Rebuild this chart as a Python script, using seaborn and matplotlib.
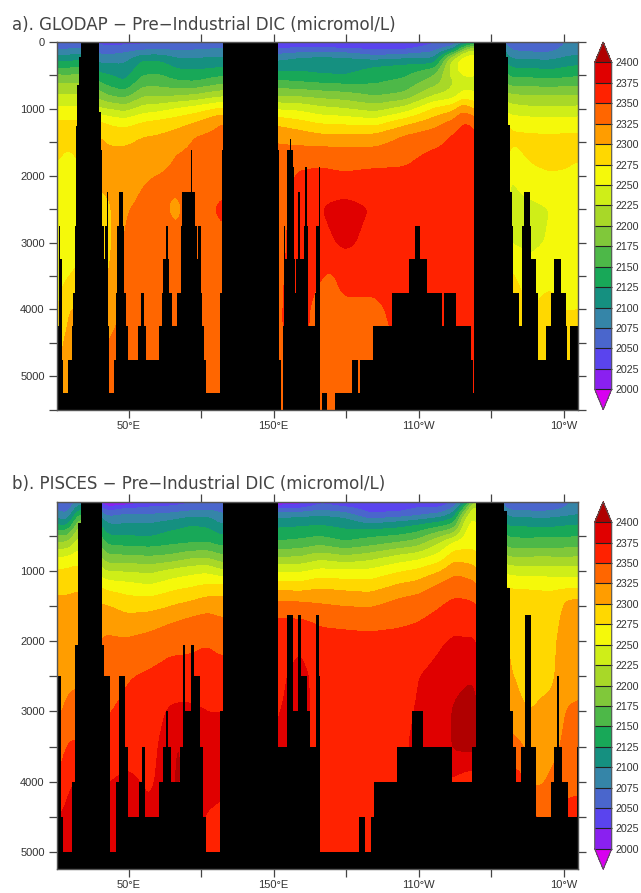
import numpy as np
import matplotlib
matplotlib.use("Agg")
import matplotlib.pyplot as plt
from matplotlib.colors import ListedColormap, BoundaryNorm
import seaborn as sns

TITLE_A = "a). GLODAP \u2212 Pre\u2212Industrial DIC (micromol/L)"
TITLE_B = "b). PISCES \u2212 Pre\u2212Industrial DIC (micromol/L)"
LEVELS = list(range(2000, 2425, 25))
BAND_COLORS = ["#d800f0", "#8a20f0", "#5a44ee", "#4a66cc", "#3585a8", "#159080",
               "#18a858", "#4db848", "#80c83a", "#a8d828", "#cfee18", "#f5f90a",
               "#ffd800", "#ff9d00", "#ff6600", "#ff2200", "#e00000", "#b00000"]
XTICKS = [50, 100, 150, 200, 250, 300, 350]
XLABELS = ["50\u00b0E", "", "150\u00b0E", "", "110\u00b0W", "", "10\u00b0W"]
DEPTHS = [0, 100, 200, 300, 450, 600, 800, 1000, 1200, 1400, 1700, 2000, 2500, 3000, 3500, 4000, 4500, 5500]

A_LONS = [0.4, 8, 16.5, 30.5, 37, 47.6, 60, 71.6, 83.3, 95.8, 114.3, 152.9, 168, 181.8, 189, 199, 219.7, 240.3, 261,
          273.4, 280.3, 287.8, 312.6, 326.4, 340.2, 350.5, 359.6]
A_DIC = [
    [2055, 2069, 2097, 2125, 2167, 2200, 2228, 2256, 2279, 2288, 2279, 2268, 2262, 2260, 2262, 2270, 2290, 2310],
    [2055, 2070, 2101, 2126, 2164, 2196, 2226, 2254, 2278, 2284, 2270, 2262, 2258, 2262, 2274, 2300, 2306, 2316],
    [2058, 2075, 2108, 2132, 2170, 2200, 2228, 2256, 2280, 2288, 2278, 2270, 2265, 2268, 2280, 2302, 2308, 2316],
    [2040, 2062, 2076, 2096, 2122, 2147, 2186, 2226, 2279, 2302, 2305, 2305, 2296, 2293, 2302, 2306, 2315, 2320],
    [2035, 2058, 2077, 2096, 2120, 2138, 2172, 2224, 2268, 2293, 2306, 2306, 2296, 2294, 2298, 2312, 2328, 2332],
    [2040, 2062, 2083, 2097, 2112, 2125, 2164, 2214, 2263, 2290, 2308, 2312, 2323, 2330, 2331, 2332, 2333, 2335],
    [2040, 2066, 2103, 2132, 2144, 2164, 2196, 2236, 2276, 2299, 2313, 2323, 2330, 2332, 2334, 2335, 2336, 2338],
    [2042, 2072, 2103, 2129, 2146, 2163, 2196, 2241, 2282, 2302, 2314, 2326, 2330, 2333, 2335, 2335, 2336, 2338],
    [2045, 2068, 2092, 2110, 2132, 2153, 2197, 2253, 2289, 2309, 2326, 2331, 2320, 2330, 2335, 2336, 2337, 2338],
    [2048, 2070, 2094, 2108, 2129, 2150, 2203, 2262, 2299, 2325, 2332, 2336, 2338, 2338, 2338, 2338, 2338, 2338],
    [2052, 2078, 2097, 2111, 2137, 2167, 2219, 2281, 2326, 2332, 2338, 2342, 2354, 2345, 2340, 2338, 2338, 2338],
    [2030, 2044, 2083, 2103, 2126, 2155, 2197, 2247, 2291, 2320, 2332, 2336, 2342, 2342, 2345, 2347, 2348, 2348],
    [2035, 2050, 2092, 2112, 2125, 2150, 2195, 2244, 2281, 2312, 2338, 2354, 2360, 2362, 2362, 2360, 2356, 2350],
    [2035, 2048, 2097, 2113, 2120, 2146, 2190, 2232, 2271, 2304, 2341, 2356, 2373, 2366, 2352, 2340, 2340, 2342],
    [2033, 2046, 2096, 2112, 2119, 2145, 2188, 2230, 2270, 2304, 2341, 2354, 2380, 2372, 2346, 2340, 2340, 2342],
    [2032, 2045, 2096, 2110, 2118, 2143, 2185, 2226, 2268, 2303, 2340, 2352, 2385, 2380, 2358, 2345, 2340, 2342],
    [2030, 2042, 2072, 2114, 2135, 2146, 2172, 2214, 2262, 2306, 2339, 2356, 2372, 2366, 2358, 2345, 2340, 2340],
    [2030, 2042, 2082, 2119, 2141, 2157, 2181, 2235, 2290, 2327, 2344, 2355, 2362, 2362, 2362, 2360, 2356, 2350],
    [2044, 2064, 2089, 2115, 2169, 2188, 2226, 2280, 2314, 2338, 2356, 2360, 2362, 2362, 2362, 2362, 2360, 2350],
    [2050, 2085, 2190, 2245, 2238, 2222, 2236, 2292, 2332, 2352, 2358, 2360, 2362, 2362, 2362, 2360, 2356, 2350],
    [2075, 2170, 2252, 2262, 2258, 2236, 2261, 2320, 2352, 2358, 2360, 2366, 2364, 2362, 2362, 2360, 2356, 2350],
    [2110, 2230, 2262, 2265, 2262, 2240, 2255, 2300, 2345, 2358, 2362, 2381, 2365, 2362, 2362, 2360, 2356, 2350],
    [2060, 2070, 2088, 2110, 2135, 2161, 2204, 2236, 2265, 2280, 2268, 2248, 2240, 2248, 2280, 2300, 2305, 2310],
    [2047, 2064, 2086, 2108, 2135, 2161, 2200, 2231, 2262, 2278, 2278, 2268, 2242, 2245, 2258, 2272, 2285, 2295],
    [2045, 2062, 2085, 2106, 2130, 2160, 2200, 2231, 2261, 2277, 2285, 2272, 2250, 2252, 2265, 2290, 2298, 2300],
    [2075, 2082, 2095, 2113, 2135, 2161, 2200, 2231, 2260, 2278, 2285, 2270, 2258, 2255, 2260, 2273, 2295, 2300],
    [2085, 2088, 2100, 2118, 2140, 2163, 2200, 2232, 2262, 2278, 2280, 2262, 2255, 2252, 2258, 2275, 2295, 2300],
]
A_EDGES = [0.4, 2.1, 3.0, 4.0, 5.1, 8.1, 10.8, 12.0, 13.1, 13.8, 14.7, 15.9, 17.0, 29.9, 30.8, 31.7, 33.1, 34.0, 35.0, 35.6,
           36.1, 36.8, 40.0, 41.2, 42.3, 43.7, 46.0, 47.1, 48.3, 49.9, 56.3, 58.4, 60.9, 62.0, 70.7, 73.0, 74.0, 75.8, 77.0, 78.1,
           80.2, 83.1, 86.1, 86.8, 93.0, 93.9, 95.8, 96.9, 98.0, 99.9, 100.8, 102.0, 103.1, 113.0, 114.1, 114.8, 152.9, 153.9, 155.0, 156.2,
           157.1, 157.7, 158.9, 159.3, 161.1, 161.9, 163.0, 163.9, 164.6, 165.5, 166.9, 167.8, 170.8, 171.5, 172.9, 173.8, 178.4, 179.0, 181.1, 181.8,
           183.0, 186.9, 188.0, 192.2, 204.1, 208.2, 209.4, 218.1, 231.2, 243.1, 247.2, 250.7, 255.3, 266.0, 267.2, 275.9, 286.2, 287.4, 288.3, 310.3,
           311.5, 312.6, 313.8, 314.9, 319.0, 321.1, 322.3, 326.4, 327.5, 331.0, 332.1, 337.9, 341.3, 343.1, 348.2, 351.2, 352.3, 354.0, 359.7]
A_FLOOR = [4250, 2750, 3250, 4750, 5250, 4750, 4250, 3750, 2750, 1250, 650, 220, 0, 1050, 1620, 2750, 3250, 2750, 2250, 2750,
           4250, 5250, 4750, 3750, 2750, 2250, 2750, 3750, 4250, 4750, 4250, 3750, 4250, 4750, 4250, 3750, 3250, 2750, 3250, 3750,
           4250, 3750, 2750, 2250, 1620, 2250, 2750, 3250, 2750, 3750, 4250, 4750, 5250, 3750, 1620, 0, 1620, 4750, 5500, 4250,
           2750, 3250, 2750, 1620, 1445, 1620, 1870, 3250, 3750, 3250, 2250, 3250, 2750, 1870, 2750, 4250, 3750, 2750, 1870, 5500,
           5250, 5500, 5500, 5250, 4750, 5250, 4750, 4250, 3750, 3250, 2750, 3250, 3750, 4250, 3750, 4250, 4750, 5250, 0, 220,
           1245, 2250, 2750, 3750, 4250, 2750, 2250, 2750, 3250, 3750, 4750, 4250, 3750, 3250, 3750, 4250, 4750, 4250]

B_LONS = [0.4, 8, 16.5, 35, 48.9, 64.7, 78.5, 83.3, 92.3, 104, 114.3, 152.9, 168, 181.8, 199, 216, 237, 248.6, 264.4,
          274.7, 281.6, 288.5, 310.5, 319.4, 329.7, 342, 350.5, 359.6]
B_DIC = [
    [2055, 2068, 2089, 2112, 2162, 2203, 2250, 2278, 2292, 2303, 2306, 2308, 2312, 2320, 2330, 2350, 2375, 2380],
    [2040, 2056, 2075, 2100, 2158, 2202, 2252, 2280, 2294, 2302, 2308, 2312, 2320, 2330, 2353, 2374, 2380, 2385],
    [2085, 2120, 2160, 2195, 2225, 2245, 2265, 2285, 2298, 2304, 2310, 2315, 2322, 2332, 2355, 2375, 2380, 2385],
    [1980, 2035, 2068, 2095, 2117, 2144, 2180, 2222, 2263, 2292, 2319, 2328, 2338, 2348, 2360, 2374, 2380, 2385],
    [1982, 2054, 2078, 2096, 2118, 2140, 2180, 2223, 2257, 2281, 2308, 2328, 2348, 2356, 2365, 2380, 2386, 2390],
    [2030, 2052, 2077, 2097, 2115, 2138, 2176, 2218, 2250, 2279, 2313, 2334, 2354, 2362, 2366, 2371, 2380, 2385],
    [2032, 2054, 2082, 2104, 2128, 2144, 2180, 2230, 2262, 2288, 2321, 2342, 2360, 2378, 2388, 2388, 2385, 2385],
    [2035, 2056, 2085, 2108, 2130, 2145, 2184, 2234, 2266, 2292, 2324, 2343, 2360, 2380, 2404, 2408, 2385, 2385],
    [2042, 2062, 2090, 2118, 2135, 2147, 2193, 2240, 2270, 2296, 2329, 2344, 2360, 2380, 2390, 2380, 2380, 2380],
    [2048, 2066, 2093, 2115, 2133, 2150, 2196, 2245, 2277, 2305, 2335, 2348, 2362, 2375, 2382, 2380, 2374, 2370],
    [2052, 2063, 2077, 2092, 2118, 2140, 2180, 2228, 2280, 2305, 2327, 2342, 2360, 2375, 2380, 2378, 2372, 2368],
    [1990, 2043, 2089, 2112, 2134, 2153, 2198, 2246, 2285, 2323, 2353, 2362, 2370, 2374, 2376, 2370, 2370, 2370],
    [2000, 2046, 2092, 2114, 2137, 2157, 2200, 2246, 2283, 2321, 2352, 2372, 2382, 2382, 2380, 2378, 2376, 2372],
    [2040, 2062, 2098, 2118, 2140, 2166, 2215, 2257, 2293, 2319, 2346, 2358, 2366, 2368, 2366, 2364, 2362, 2360],
    [2030, 2050, 2088, 2112, 2130, 2153, 2204, 2254, 2289, 2315, 2343, 2358, 2366, 2368, 2366, 2364, 2362, 2360],
    [2030, 2040, 2049, 2091, 2136, 2163, 2213, 2256, 2285, 2313, 2342, 2356, 2366, 2368, 2366, 2364, 2362, 2360],
    [2028, 2040, 2056, 2105, 2140, 2177, 2233, 2273, 2303, 2327, 2345, 2358, 2366, 2370, 2372, 2368, 2364, 2360],
    [2035, 2050, 2065, 2112, 2150, 2186, 2240, 2280, 2308, 2332, 2348, 2362, 2374, 2376, 2378, 2372, 2368, 2360],
    [2030, 2048, 2082, 2125, 2178, 2225, 2260, 2298, 2329, 2344, 2358, 2372, 2382, 2385, 2385, 2375, 2370, 2360],
    [2040, 2075, 2112, 2140, 2195, 2258, 2292, 2320, 2338, 2351, 2368, 2378, 2392, 2404, 2404, 2370, 2355, 2340],
    [2090, 2155, 2210, 2238, 2252, 2262, 2287, 2315, 2335, 2350, 2368, 2376, 2396, 2408, 2406, 2362, 2345, 2330],
    [2200, 2252, 2256, 2260, 2266, 2270, 2285, 2310, 2330, 2347, 2368, 2378, 2399, 2410, 2408, 2358, 2340, 2325],
    [2050, 2062, 2095, 2112, 2140, 2160, 2200, 2240, 2271, 2287, 2293, 2298, 2302, 2310, 2340, 2355, 2350, 2340],
    [2050, 2062, 2095, 2112, 2140, 2158, 2198, 2238, 2270, 2286, 2292, 2295, 2298, 2301, 2330, 2362, 2355, 2340],
    [2040, 2058, 2091, 2110, 2138, 2160, 2200, 2238, 2269, 2285, 2291, 2294, 2297, 2300, 2308, 2318, 2352, 2345],
    [2048, 2060, 2092, 2110, 2138, 2160, 2200, 2236, 2267, 2283, 2288, 2293, 2295, 2306, 2318, 2330, 2345, 2345],
    [2065, 2075, 2095, 2115, 2140, 2160, 2200, 2235, 2265, 2300, 2308, 2312, 2316, 2326, 2330, 2335, 2365, 2360],
    [2085, 2085, 2100, 2118, 2142, 2162, 2200, 2235, 2267, 2303, 2310, 2314, 2319, 2328, 2332, 2338, 2368, 2360],
]
B_EDGES = [0.4, 1.7, 3.5, 5.1, 11.3, 13.1, 15.4, 17.3, 31.5, 33.3, 37.2, 41.4, 43.7, 47.6, 49.4, 57.2, 59.5, 61.3, 71.2, 73.5,
           75.6, 77.4, 79.2, 85.4, 87.3, 89.1, 93.2, 95.1, 99.2, 101.0, 103.1, 113.0, 114.8, 153.1, 159.3, 163.0, 166.9, 168.7, 172.6, 174.9,
           179.0, 181.1, 182.0, 208.9, 212.8, 216.9, 219.0, 235.1, 245.0, 253.0, 272.9, 286.9, 289.0, 308.8, 310.8, 312.9, 315.0, 316.8, 320.5, 323.0,
           326.9, 330.6, 340.7, 343.0, 344.8, 346.7, 348.7, 352.9, 359.0, 359.7]
B_FLOOR = [3500, 2500, 4500, 5000, 4000, 2060, 320, 0, 2060, 2500, 5000, 4000, 2500, 3500, 4500, 4000, 3500, 4500, 4000, 3500,
           3000, 3500, 4000, 3500, 2060, 3000, 2060, 2500, 3500, 4500, 5000, 3000, 0, 3500, 1625, 3000, 1625, 2500, 3000, 3500,
           1625, 2500, 5000, 4500, 5000, 4500, 4000, 3500, 3000, 3500, 4000, 3500, 0, 150, 1250, 3000, 3500, 4000, 3500, 1625,
           3500, 4500, 4000, 3500, 2500, 3500, 4000, 4500, 3500]

sns.set_theme(style="white", rc={"axes.edgecolor": "#555555", "axes.linewidth": 1.0,
                                 "xtick.color": "#444444", "ytick.color": "#444444"})
plt.rcParams["font.family"] = ["Liberation Sans", "DejaVu Sans"]
TEXT = "#333333"
W, H = 641, 893
palette = sns.color_palette(BAND_COLORS)
cmap = ListedColormap(palette[1:-1])
cmap.set_under(palette[0])
cmap.set_over(palette[-1])
norm = BoundaryNorm(LEVELS, cmap.N)

fig = plt.figure(figsize=(W / 100, H / 100), dpi=100)


def soften(arr, sigma, axis):
    """Round the corners a coarse hand-read grid leaves in the contour lines."""
    half = int(3 * sigma)
    kernel = np.exp(-0.5 * (np.arange(-half, half + 1) / sigma) ** 2)
    kernel /= kernel.sum()
    pad = [(0, 0), (0, 0)]
    pad[axis] = (half, half)
    padded = np.pad(arr, pad, mode="edge")
    return np.apply_along_axis(lambda v: np.convolve(v, kernel, mode="valid"), axis, padded)


def panel(top, bottom, ylim, lons, dic, edges, floor, title, title_y, yticks):
    ax = fig.add_axes([56.5 / W, 1 - bottom / H, 521.5 / W, (bottom - top) / H])
    field = np.array(dic, dtype=float)
    fine_lon = np.arange(0.4, 360.0, 0.6)
    fine_dep = np.arange(0.0, 5510.0, 20.0)
    by_lon = np.array([np.interp(fine_dep, DEPTHS, col) for col in field])
    grid = np.array([np.interp(fine_lon, lons, row) for row in by_lon.T])
    grid = soften(soften(grid, 4, 1), 2.5, 0)
    cf = ax.contourf(fine_lon, fine_dep, grid, levels=LEVELS, cmap=cmap, norm=norm, extend="both")
    steps = np.array(floor + [floor[-1]], dtype=float)
    ax.fill_between(edges, steps, 6000, step="post", color="black", lw=0, zorder=3)
    ax.set_xlim(0.4, 359.6)
    ax.set_ylim(*ylim)
    ax.set_xticks(XTICKS)
    ax.set_xticklabels(XLABELS, fontsize=8, color=TEXT)
    ax.set_yticks(yticks)
    ax.set_yticklabels([str(t) if t % 1000 == 0 else "" for t in yticks], fontsize=8, color=TEXT)
    ax.tick_params(axis="both", which="major", direction="out", length=6, width=0.9,
                   top=True, right=True, bottom=True, left=True, pad=2.5)
    ax.tick_params(axis="x", pad=2)
    for s in ax.spines.values():
        s.set_zorder(5)
    fig.text(12 / W, 1 - title_y / H, title, fontsize=12, color="#444444", ha="left", va="baseline",
             family=["DejaVu Sans"])
    cax = fig.add_axes([594.7 / W, 1 - bottom / H, 17 / W, (bottom - top) / H])
    cb = fig.colorbar(cf, cax=cax, extend="both", extendfrac="auto", drawedges=True, ticks=LEVELS)
    cb.dividers.set_color("#222222")
    cb.dividers.set_linewidth(0.8)
    cb.outline.set_edgecolor("#555555")
    cb.outline.set_linewidth(0.8)
    cax.tick_params(length=0, pad=2.5, labelsize=7.7, labelcolor=TEXT)
    return ax


panel(42, 409.7, (5500, 0), A_LONS, A_DIC, A_EDGES, A_FLOOR, TITLE_A, 30, list(range(0, 6000, 500)))
panel(501.7, 869.3, (5246, 15), B_LONS, B_DIC, B_EDGES, B_FLOOR, TITLE_B, 489, list(range(500, 5500, 500)))

fig.savefig("out.png", dpi=100)
